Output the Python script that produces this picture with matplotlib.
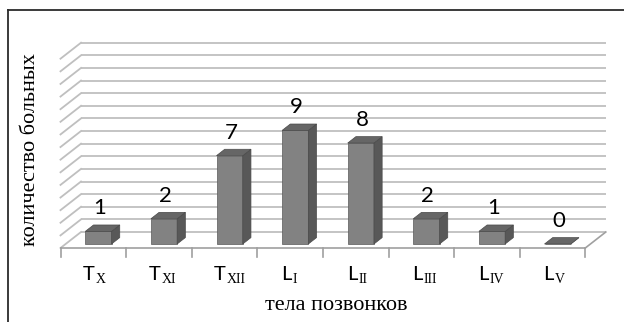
import matplotlib
matplotlib.use("Agg")
import matplotlib.pyplot as plt
from matplotlib.patches import Polygon
from matplotlib.lines import Line2D
import numpy as np

# Vertebral bodies and number of patients
letters = ["T", "T", "T", "L", "L", "L", "L", "L"]
numerals = ["X", "XI", "XII", "I", "II", "III", "IV", "V"]
patients = [1, 2, 7, 9, 8, 2, 1, 0]
y_max = 15
x_title = "тела позвонков"
y_title = "количество больных"

W, H, DPI = 624, 322, 100
fig = plt.figure(figsize=(W / DPI, H / DPI), dpi=DPI)
ax = fig.add_axes([0, 0, 1, 1])
ax.set_axis_off()

# pixel scale of the data coordinates
px_cat = 65.6          # pixels per category
px_val = 12.62         # pixels per patient
cx0 = 93.3             # pixel x of first category centre
floor_py = 248         # pixel y (from top) of the floor front edge
ax.set_xlim(-cx0 / px_cat, (W - cx0) / px_cat)
ax.set_ylim(-(H - floor_py) / px_val, floor_py / px_val)

# oblique depth offset of the pseudo-3D box
DX = 20.5 / px_cat
DY = 16.0 / px_val
n = len(patients)
x = np.arange(n)
left, right = -0.5, n - 0.5

grid_c = "#bfbfbf"
for v in range(0, y_max + 1):
    ax.plot([left + DX, right + DX], [v + DY, v + DY], color=grid_c, lw=1.3,
            solid_capstyle="butt", zorder=1)
    ax.plot([left, left + DX], [v, v + DY], color=grid_c, lw=1.3, zorder=1)

# floor edges and ticks
floor_c = "#a0a0a0"
ax.plot([left, right], [0, 0], color=floor_c, lw=1.2, zorder=2)
ax.plot([right, right + DX], [0, DY], color=floor_c, lw=1.2, zorder=2)
for k in range(n + 1):
    ax.plot([left + k, left + k], [0, -8.5 / px_val], color=floor_c, lw=1.2, zorder=2)

# bars: front face, side face and top face
d0, d1 = 0.25, 0.65
bw = 0.40
front_c, side_c, top_c = "#828282", "#585858", "#666666"
xf = x + d0 * DX
bf = d0 * DY
ax.bar(xf, patients, width=bw, bottom=bf, color=front_c, edgecolor="#5a5a5a",
       linewidth=0.5, zorder=3)
ddx, ddy = (d1 - d0) * DX, (d1 - d0) * DY
for xi, v in zip(xf, patients):
    xl, xr = xi - bw / 2, xi + bw / 2
    top = bf + v
    side = Polygon([(xr, bf), (xr + ddx, bf + ddy), (xr + ddx, top + ddy), (xr, top)],
                   closed=True, facecolor=side_c, edgecolor="#4a4a4a", lw=0.5, zorder=3)
    cap = Polygon([(xl, top), (xr, top), (xr + ddx, top + ddy), (xl + ddx, top + ddy)],
                  closed=True, facecolor=top_c, edgecolor="#4a4a4a", lw=0.5, zorder=4)
    ax.add_patch(side)
    ax.add_patch(cap)
    ax.text(xi + 0.02, top + ddy + 0.85, str(v), ha="center", va="baseline",
            fontsize=16, family="Lato", color="#000000", zorder=5)

# category labels: sans capital with serif roman-numeral subscript
for xi, let, num in zip(x, letters, numerals):
    ax.annotate(let, (xi, -32.5 / px_val), xytext=(1.5, 0), textcoords="offset pixels",
                ha="right", va="baseline", fontsize=14.5, family="Lato", color="#000000")
    ax.annotate(num, (xi, -35.0 / px_val), xytext=(2.5, 0), textcoords="offset pixels",
                ha="left", va="baseline", fontsize=10, family="Liberation Serif",
                color="#000000")

# axis titles
fig.text(336 / W, 1 - 310 / H, x_title, ha="center", va="baseline", fontsize=16,
         family="Liberation Serif")
fig.text(31 / W, 1 - 150 / H, y_title, ha="center", va="center", rotation=90,
         fontsize=16, family="Liberation Serif")

# frame: top and left edges
fig.add_artist(Line2D([8 / W, 1], [1 - 10 / H, 1 - 10 / H], color="#2b2b2b", lw=1.3))
fig.add_artist(Line2D([8 / W, 8 / W], [0, 1 - 10 / H], color="#2b2b2b", lw=1.3))

fig.savefig("out.png", dpi=DPI)
